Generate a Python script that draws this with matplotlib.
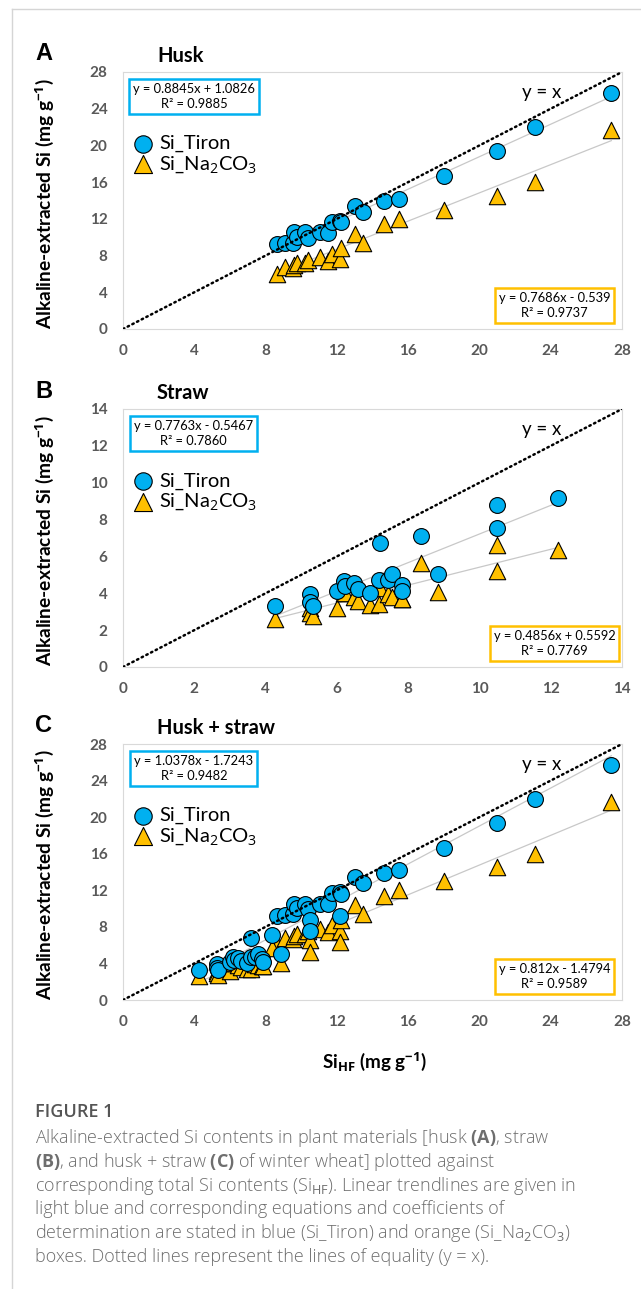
import numpy as np
import matplotlib
matplotlib.use("Agg")
import matplotlib.pyplot as plt
from matplotlib.lines import Line2D

plt.rcParams['font.family'] = ['Lato', 'DejaVu Sans']
plt.rcParams['mathtext.fontset'] = 'custom'
plt.rcParams['mathtext.rm'] = 'Open Sans'
plt.rcParams['mathtext.it'] = 'Open Sans:italic'
plt.rcParams['mathtext.bf'] = 'Open Sans:bold'

# husk (A)
husk_hf = [8.66, 9.11, 9.53, 9.59, 9.79, 10.21, 10.39, 11.05, 11.53, 11.72,
           12.15, 12.21, 13.02, 13.47, 14.65, 15.47, 18.02, 20.97, 23.12, 27.40]
husk_tiron = [9.24, 9.35, 9.42, 10.54, 10.07, 10.54, 9.96, 10.54, 10.47, 11.70,
              11.78, 11.63, 13.44, 12.79, 13.91, 14.17, 16.63, 19.38, 21.96, 25.69]
husk_na = [6.0, 6.8, 6.7, 7.0, 7.2, 7.2, 7.5, 7.8, 7.4, 8.2,
           7.6, 8.8, 10.4, 9.4, 11.4, 12.0, 13.0, 14.5, 16.0, 21.7]

# straw (B)
straw_hf = [4.27, 5.26, 5.26, 5.33, 5.99, 6.19, 6.22, 6.48, 6.60, 6.93, 7.21,
            7.19, 7.43, 7.55, 7.82, 7.84, 8.37, 8.84, 10.48, 10.48, 12.20]
straw_tiron = [3.33, 3.96, 3.51, 3.29, 4.15, 4.65, 4.42, 4.55, 4.24, 4.02, 6.75,
               4.73, 4.73, 5.02, 4.47, 4.11, 7.09, 5.02, 8.78, 7.55, 9.15]
straw_na = [2.6, 3.2, 2.95, 2.75, 3.2, 4.0, 4.0, 3.8, 3.6, 3.35, 4.3,
            3.4, 3.95, 3.8, 3.7, 3.7, 5.65, 4.05, 6.6, 5.2, 6.36]

# husk + straw (C)
both_hf = husk_hf + straw_hf
both_tiron = husk_tiron + straw_tiron
both_na = husk_na + straw_na

# trendlines (slope, intercept, R2)
fit_tiron = [(0.8845, 1.0826, 0.9885), (0.7763, -0.5467, 0.7860), (1.0378, -1.7243, 0.9482)]
fit_na = [(0.7686, -0.539, 0.9737), (0.4856, 0.5592, 0.7769), (0.812, -1.4794, 0.9589)]

letters = ['A', 'B', 'C']
titles = ['Husk', 'Straw', 'Husk + straw']
axis_max = [28, 14, 28]
tick_step = [4, 2, 4]

caption = [
    r"Alkaline-extracted Si contents in plant materials [husk $\mathbf{(A)}$, straw",
    r"$\mathbf{(B)}$, and husk + straw $\mathbf{(C)}$ of winter wheat] plotted against",
    r"corresponding total Si contents (Si$_{\mathrm{HF}}$). Linear trendlines are given in",
    "light blue and corresponding equations and coefficients of",
    r"determination are stated in blue (Si_Tiron) and orange (Si_Na$_2$CO$_3$)",
    "boxes. Dotted lines represent the lines of equality (y = x).",
]

BLUE = '#00B0F0'
ORANGE = '#FFC000'
TICKGRAY = '#595959'

W, H = 641, 1289
fig = plt.figure(figsize=(W / 100, H / 100), dpi=100)

# panel boxes in pixels: (top, bottom)
boxes = [(72, 329), (409, 667), (744, 1000)]
left_px, right_px = 123, 622

datasets = [(husk_hf, husk_tiron, husk_na),
            (straw_hf, straw_tiron, straw_na),
            (both_hf, both_tiron, both_na)]


def eq_text(a, b, r2):
    sign = '+' if b >= 0 else '-'
    return f"y = {a}x {sign} {abs(b)}\nR² = {r2:.4f}"


for i, (top, bot) in enumerate(boxes):
    ax = fig.add_axes([left_px / W, 1 - bot / H, (right_px - left_px) / W, (bot - top) / H])
    hf, tir, na = datasets[i]
    m = axis_max[i]

    # trendlines
    xs = np.array([min(hf), max(hf)])
    a, b, _ = fit_tiron[i]
    ax.plot(xs, a * xs + b, color='#C8C8C8', lw=0.9, zorder=1)
    a, b, _ = fit_na[i]
    ax.plot(xs, a * xs + b, color='#C8C8C8', lw=0.9, zorder=1)

    ax.scatter(hf, na, marker='^', s=140, c=ORANGE, edgecolors='black',
               linewidths=0.8, zorder=2, label=r'Si_Na$_2$CO$_3$')
    ax.scatter(hf, tir, marker='o', s=130, c=BLUE, edgecolors='black',
               linewidths=0.8, zorder=3, label='Si_Tiron')

    ax.plot([0, m], [0, m], color='black', lw=1.8, linestyle=(0, (0.6, 1.5)),
            dash_capstyle='round', zorder=4)

    ax.set_xlim(0, m)
    ax.set_ylim(0, m)
    ticks = np.arange(0, m + 1, tick_step[i])
    ax.set_xticks(ticks)
    ax.set_yticks(ticks)
    ax.tick_params(length=0, labelsize=11, labelcolor=TICKGRAY, pad=11)
    for lab in ax.get_xticklabels() + ax.get_yticklabels():
        lab.set_fontweight('bold')
    for sp in ax.spines.values():
        sp.set_color('#D9D9D9')
        sp.set_linewidth(0.8)

    # equation boxes
    ax.text(0.142, 0.905, eq_text(*fit_tiron[i]), transform=ax.transAxes,
            ha='center', va='center', fontsize=9.3, multialignment='center',
            linespacing=1.3, zorder=6,
            bbox=dict(boxstyle='square,pad=0.3', fc='white', ec=BLUE, lw=1.8))
    ax.text(0.865, 0.091, eq_text(*fit_na[i]), transform=ax.transAxes,
            ha='center', va='center', fontsize=9.3, multialignment='center',
            linespacing=1.3, zorder=6,
            bbox=dict(boxstyle='square,pad=0.3', fc='white', ec=ORANGE, lw=1.8))

    ax.text(0.839, 0.92, 'y = x', transform=ax.transAxes, ha='center',
            va='center', fontsize=13.5)

    handles, labels = ax.get_legend_handles_labels()
    ax.legend(handles[::-1], labels[::-1], loc='center left',
              bbox_to_anchor=(0.0, 0.677), frameon=False, fontsize=14.5,
              handletextpad=0.15, labelspacing=0.1, borderpad=0,
              borderaxespad=0.35, handlelength=1.3, markerscale=1.1)

    # panel letter, title, y label
    fig.text(43.5 / W, 1 - (top - 18) / H, letters[i], fontsize=17,
             fontweight='bold', family='Liberation Sans', ha='center', va='center')
    fig.text(157 / W, 1 - (top - 10) / H, titles[i], fontsize=14.5,
             fontweight='bold', ha='left', va='baseline')
    fig.text(45 / W, 1 - ((top + bot) / 2 + 3) / H,
             r'Alkaline-extracted Si (mg g$^{\mathbf{-1}}$)', rotation=90,
             fontsize=13.8, fontweight='bold', ha='center', va='center')

fig.text(374 / W, 1 - 1062 / H, r'Si$_{\mathbf{HF}}$ (mg g$^{\mathbf{-1}}$)',
         fontsize=13.5, fontweight='bold', ha='center', va='center')

# caption
fig.text(35 / W, 1 - 1112 / H, 'FIGURE 1', fontsize=13, fontweight='semibold',
         family='Open Sans', color='#555555', va='center')
for k, line in enumerate(caption):
    fig.text(35 / W, 1 - (1138 + 23.8 * k) / H, line, fontsize=13,
             family='Open Sans', fontweight='light', color='#6E6E6E', va='center')

# page frame
fig.add_artist(Line2D([12 / W, 1], [1 - 9 / H, 1 - 9 / H], color='#D5D5D5', lw=1))
fig.add_artist(Line2D([12 / W, 12 / W], [0, 1 - 9 / H], color='#D5D5D5', lw=1))

fig.savefig('out.png', dpi=100, facecolor='white')
